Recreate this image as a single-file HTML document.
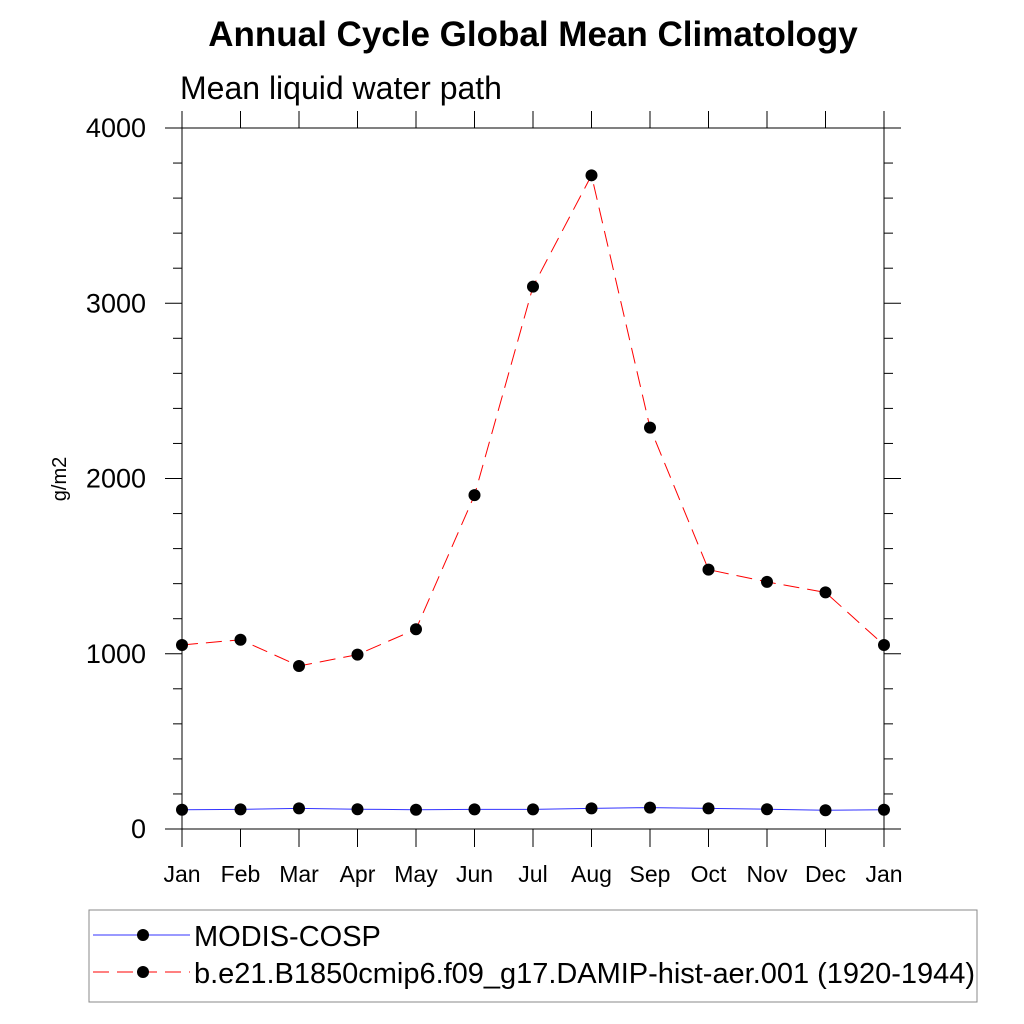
<!DOCTYPE html>
<html><head><meta charset="utf-8"><style>body{margin:0;background:#fff}svg{display:block;font-family:"Liberation Sans",sans-serif}</style></head>
<body>
<svg id="c" width="1024" height="1024">
<text x="533" y="46" text-anchor="middle" font-size="35" font-weight="bold">Annual Cycle Global Mean Climatology</text>
<text x="180" y="99" font-size="32">Mean liquid water path</text>
<text transform="translate(66,479) rotate(-90)" text-anchor="middle" font-size="20">g/m2</text>
<g id="axes"></g><g id="series"></g>
<rect x="89" y="910" width="888" height="92" fill="none" stroke="#888" stroke-width="1"/>
<g>
<line x1="93" y1="935" x2="190" y2="935" stroke="#3333ff" stroke-width="1"/><circle cx="143" cy="935" r="6"/>
<text x="194" y="946" font-size="29">MODIS-COSP</text></g>
<g>
<line x1="93" y1="972" x2="190" y2="972" stroke="#ff0000" stroke-width="1" stroke-dasharray="16,8"/><circle cx="143" cy="972" r="6"/>
<text x="194" y="983" font-size="29" textLength="781">b.e21.B1850cmip6.f09_g17.DAMIP-hist-aer.001 (1920-1944)</text></g>
</svg>
<script>
const months=["Jan","Feb","Mar","Apr","May","Jun","Jul","Aug","Sep","Oct","Nov","Dec","Jan"];
const modelVals=[1050,1080,930,995,1140,1905,3095,3730,2290,1480,1410,1350,1050];
const obsVals=[110,112,118,113,110,112,112,118,122,118,113,107,110];
const yTicks=[0,1000,2000,3000,4000];
const NS="http://www.w3.org/2000/svg";
const X0=182,X1=884,Y0=829,Y1=128;
const xs=i=>X0+(X1-X0)*i/(months.length-1);
const ys=v=>Y0-(Y0-Y1)*v/4000;
function mk(t,a,p){const e=document.createElementNS(NS,t);for(const k in a)e.setAttribute(k,a[k]);p.appendChild(e);return e;}
const ax=document.getElementById('axes'),se=document.getElementById('series');
const st={stroke:"#000","stroke-width":1};
mk('line',{x1:165,y1:Y1,x2:901,y2:Y1,...st},ax);
mk('line',{x1:165,y1:Y0,x2:901,y2:Y0,...st},ax);
mk('line',{x1:X0,y1:111,x2:X0,y2:847,...st},ax);
mk('line',{x1:X1,y1:111,x2:X1,y2:847,...st},ax);
months.forEach((m,i)=>{const x=xs(i);
mk('line',{x1:x,y1:111,x2:x,y2:Y1,...st},ax);mk('line',{x1:x,y1:Y0,x2:x,y2:847,...st},ax);
const t=mk('text',{x:x,y:882,"text-anchor":"middle","font-size":23},ax);t.textContent=m;

});
for(let v=0;v<=4000;v+=200){const y=ys(v),maj=v%1000===0;
mk('line',{x1:maj?165:173,y1:y,x2:X0,y2:y,...st},ax);mk('line',{x1:X1,y1:y,x2:maj?901:893,y2:y,...st},ax);}
yTicks.forEach(v=>{const t=mk('text',{x:146,y:ys(v)+9,"text-anchor":"end","font-size":27},ax);t.textContent=v;

});
function series(vals,col,dash,name){
const p=mk('polyline',{points:vals.map((v,i)=>xs(i)+","+ys(v)).join(" "),fill:"none",stroke:col,"stroke-width":1,"stroke-dasharray":dash},se);


vals.forEach((v,i)=>{const c=mk('circle',{cx:xs(i),cy:ys(v),r:6},se);

});}
series(obsVals,"#3333ff","none","modis-cosp");
series(modelVals,"#ff0000","16,8","model");
</script>
</body></html>
